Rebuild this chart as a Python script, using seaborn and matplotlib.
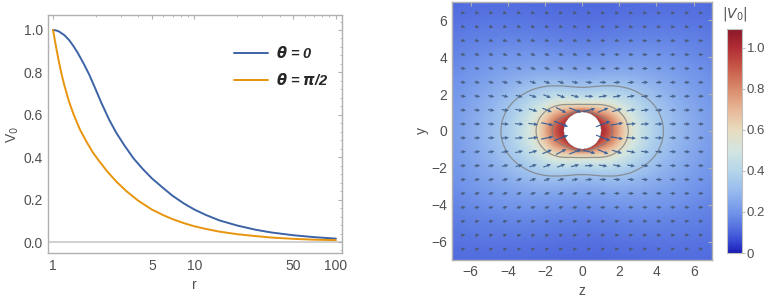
import numpy as np
import matplotlib
matplotlib.use('Agg')
import matplotlib.pyplot as plt
from matplotlib.colors import LinearSegmentedColormap
import pandas as pd
import seaborn as sns

# V0 along theta = 0
r_theta0 = [1.0, 1.05, 1.1, 1.2, 1.3, 1.4, 1.5, 1.65, 1.8, 2.0, 2.2, 2.5, 2.8, 3.2, 3.7, 4.3,
            5.0, 6.0, 7.0, 8.5, 10, 12, 15, 20, 27, 35, 50, 70, 100]
v_theta0 = [1.0, 0.998, 0.993, 0.976, 0.952, 0.922, 0.89, 0.84, 0.79, 0.72, 0.655, 0.575, 0.515,
            0.455, 0.395, 0.345, 0.30, 0.255, 0.218, 0.180, 0.153, 0.128, 0.102, 0.078, 0.058,
            0.045, 0.032, 0.023, 0.016]
# V0 along theta = pi/2
r_theta90 = [1.0, 1.03, 1.06, 1.1, 1.15, 1.2, 1.3, 1.4, 1.55, 1.7, 1.9, 2.1, 2.4, 2.8, 3.3, 4.0,
             5.0, 6.0, 7.0, 8.5, 10, 12, 15, 20, 27, 35, 50, 70, 100]
v_theta90 = [1.0, 0.95, 0.905, 0.85, 0.79, 0.74, 0.66, 0.60, 0.53, 0.48, 0.425, 0.385, 0.335,
             0.285, 0.24, 0.195, 0.153, 0.127, 0.108, 0.088, 0.074, 0.062, 0.049, 0.037, 0.028,
             0.021, 0.015, 0.011, 0.009]

legend_labels = [r'$\boldsymbol{\theta}$ = 0', r'$\boldsymbol{\theta}$ = $\boldsymbol{\pi}$/2']
x_ticks = [1, 5, 10, 50, 100]
y_ticks = [0.0, 0.2, 0.4, 0.6, 0.8, 1.0]
field_ticks = [-6, -4, -2, 0, 2, 4, 6]
cbar_ticks = [0, 0.2, 0.4, 0.6, 0.8, 1.0]
contour_levels = [0.34, 0.58, 0.85]

sns.set_style('white')
plt.rcParams['font.family'] = ['Liberation Sans', 'DejaVu Sans']
plt.rcParams['mathtext.fontset'] = 'dejavusans'
plt.rcParams['font.size'] = 10

txt = '#505050'

fig = plt.figure(figsize=(7.65, 2.97), dpi=100)
ax1 = fig.add_axes([0.0627, 0.148, 0.384, 0.801])
ax2 = fig.add_axes([0.591, 0.1246, 0.340, 0.869])
cax = fig.add_axes([0.950, 0.148, 0.020, 0.754])

# ---- left panel
df = pd.concat([
    pd.DataFrame({'r': r_theta0, 'V': v_theta0, 'case': legend_labels[0]}),
    pd.DataFrame({'r': r_theta90, 'V': v_theta90, 'case': legend_labels[1]}),
])
ax1.axhline(0, color='#c8c8c8', lw=1.2, zorder=0)
sns.lineplot(data=df, x='r', y='V', hue='case', palette=['#3c63a6', '#e8940c'],
             lw=1.4, ax=ax1, legend=True)
ax1.set_xscale('log')
ax1.set_xlim(0.92, 110)
ax1.set_ylim(-0.052, 1.07)
ax1.set_xticks(x_ticks)
ax1.set_xticklabels([str(t) for t in x_ticks])
ax1.set_yticks(y_ticks)
ax1.set_yticklabels(['%.1f' % t for t in y_ticks])
ax1.set_xlabel('r', color=txt)
ax1.set_ylabel(r'V$_0$', color=txt, labelpad=2)
leg = ax1.legend(loc='upper right', frameon=False, handlelength=2.3, fontsize=10.5,
                 bbox_to_anchor=(1.0, 0.93), labelspacing=0.75, handletextpad=0.6)
for t in leg.get_texts():
    t.set_fontweight('bold')
    t.set_fontstyle('italic')

# ---- right panel
cmap = LinearSegmentedColormap.from_list('temp', [
    (0.0, '#1c1cb4'), (0.04, '#3040d0'), (0.09, '#4a64dc'), (0.18, '#7294ea'),
    (0.28, '#98bcee'), (0.37, '#b6d6ea'), (0.46, '#d4e6e0'), (0.55, '#e8dcbe'),
    (0.64, '#e8b898'), (0.73, '#da8c6c'), (0.83, '#c75848'), (0.92, '#b02c34'),
    (1.0, '#8c1828')])
vmax = 1.09

zz, yy = np.meshgrid(np.linspace(-7, 7, 500), np.linspace(-7, 7, 500))
rr = np.hypot(zz, yy)
c2 = (zz / np.maximum(rr, 1e-9)) ** 2
lr = np.log(np.clip(rr, 1, 100))
field = np.interp(lr, np.log(r_theta0), v_theta0) * c2 + np.interp(lr, np.log(r_theta90), v_theta90) * (1 - c2)
field = np.ma.masked_where(rr < 1, field)

im = ax2.imshow(field, origin='lower', extent=[-7, 7, -7, 7], cmap=cmap, vmin=0, vmax=vmax,
                interpolation='bilinear', aspect='auto')
ax2.contour(zz, yy, field, levels=contour_levels, colors='#808080', linewidths=0.9, alpha=0.8)

# arrows
ag = np.linspace(-6.4, 6.4, 18)
az, ay = np.meshgrid(ag, ag)
ar = np.hypot(az, ay)
ac2 = (az / ar) ** 2
alr = np.log(np.clip(ar, 1, 100))
af = np.interp(alr, np.log(r_theta0), v_theta0) * ac2 + np.interp(alr, np.log(r_theta90), v_theta90) * (1 - ac2)
th = np.arctan2(ay, az)
tilt = 0.7 * np.sin(2 * th) * af - 0.25 * np.sin(th) * (1 - af)
ang = np.arctan(tilt)
L = 0.15 + 0.7 * af
keep = ar > 0.9
arrow_cmap = LinearSegmentedColormap.from_list('arr', ['#4f5868', '#3a5a88', '#2b5a9a'])
ax2.quiver(az[keep], ay[keep], (L * np.cos(ang))[keep], (L * np.sin(ang))[keep], af[keep],
           cmap=arrow_cmap, clim=(0.1, 0.6),
           angles='xy', scale_units='xy', scale=1, pivot='middle',
           width=0.0045, headwidth=3.2, headlength=3.5, headaxislength=3.2, alpha=0.9, zorder=3)

ax2.set_xlim(-7, 7)
ax2.set_ylim(-7, 7)
ax2.set_xticks(field_ticks)
ax2.set_yticks(field_ticks)
ax2.set_xticklabels([str(t).replace('-', '\u2212') for t in field_ticks])
ax2.set_yticklabels([str(t).replace('-', '\u2212') for t in field_ticks])
ax2.set_xlabel('z', color=txt)
ax2.set_ylabel('y', color=txt, labelpad=2)

cb = fig.colorbar(im, cax=cax)
cb.set_ticks(cbar_ticks)
cb.set_ticklabels(['0', '0.2', '0.4', '0.6', '0.8', '1.0'])
cb.outline.set_edgecolor('#c0c0c0')
cb.ax.tick_params(length=2, pad=1.5, color='#c0c0c0', labelcolor=txt, labelsize=9.5)
cax.set_title(r'$|V_0|$', color=txt, fontsize=10, pad=8)

for ax in (ax1, ax2):
    for s in ax.spines.values():
        s.set_color('#b0b0b0')
        s.set_linewidth(1.0)
    ax.tick_params(which='both', direction='in', color='#b0b0b0', labelcolor=txt,
                   labelsize=10, length=3, top=True, right=True)
    ax.tick_params(which='minor', length=1.5)
ax1.tick_params(axis='x', which='major', pad=4)
ax1.minorticks_on()
ax1.set_yticks(np.arange(-0.04, 1.07, 0.04), minor=True)

fig.savefig('out.png', dpi=100)
